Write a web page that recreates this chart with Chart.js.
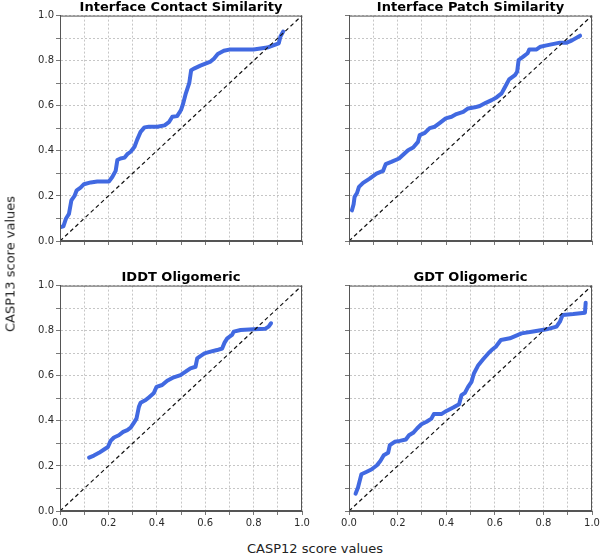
<!DOCTYPE html>
<html>
<head>
<meta charset="utf-8">
<script src="https://cdn.jsdelivr.net/npm/chart.js@4.4.1/dist/chart.umd.min.js"></script>
<style>
  body { margin: 0; background: #fff; }
  #wrap { position: relative; width: 600px; height: 556px; font-family: "DejaVu Sans", sans-serif; }
  .panel { position: absolute; }
  .axis-title { position: absolute; font-size: 13px; color: #222; white-space: nowrap; }
</style>
</head>
<body>
<div id="wrap">
  <div class="panel" id="p1" style="left:0px;top:0px;width:314px;height:247px"><canvas id="contact"></canvas></div>
  <div class="panel" id="p2" style="left:300px;top:0px;width:300px;height:247px"><canvas id="patch"></canvas></div>
  <div class="panel" id="p3" style="left:0px;top:270px;width:314px;height:263px"><canvas id="lddt"></canvas></div>
  <div class="panel" id="p4" style="left:300px;top:270px;width:300px;height:263px"><canvas id="gdt"></canvas></div>
  <div class="axis-title" style="left:247px;top:541px">CASP12 score values</div>
  <div class="axis-title" style="left:10px;top:264px;transform:translate(-50%,-50%) rotate(-90deg)">CASP13 score values</div>
</div>
<script>
// CASP12 (x) vs CASP13 (y) score values
const contactX = [0.003, 0.014, 0.025, 0.037, 0.047, 0.06, 0.069, 0.085, 0.099, 0.127, 0.154, 0.202, 0.216, 0.23, 0.237, 0.25, 0.267, 0.278, 0.292, 0.308, 0.319, 0.333, 0.349, 0.367, 0.402, 0.432, 0.45, 0.464, 0.484, 0.5, 0.509, 0.52, 0.534, 0.542, 0.556, 0.58, 0.622, 0.636, 0.652, 0.677, 0.704, 0.80, 0.856, 0.904, 0.911, 0.922]
const contactY = [0.062, 0.065, 0.10, 0.12, 0.18, 0.20, 0.225, 0.237, 0.252, 0.26, 0.264, 0.264, 0.284, 0.311, 0.359, 0.366, 0.37, 0.385, 0.396, 0.418, 0.45, 0.484, 0.504, 0.507, 0.507, 0.513, 0.527, 0.551, 0.554, 0.581, 0.61, 0.655, 0.70, 0.758, 0.766, 0.778, 0.796, 0.809, 0.83, 0.844, 0.85, 0.85, 0.858, 0.877, 0.907, 0.929]

const patchX = [0.012, 0.019, 0.023, 0.033, 0.041, 0.058, 0.085, 0.113, 0.14, 0.151, 0.174, 0.206, 0.225, 0.243, 0.264, 0.284, 0.291, 0.312, 0.332, 0.353, 0.374, 0.398, 0.422, 0.442, 0.47, 0.49, 0.518, 0.538, 0.563, 0.587, 0.607, 0.628, 0.641, 0.659, 0.683, 0.692, 0.698, 0.717, 0.735, 0.742, 0.772, 0.788, 0.813, 0.868, 0.896, 0.916, 0.951]
const patchY = [0.136, 0.163, 0.196, 0.213, 0.24, 0.258, 0.277, 0.299, 0.311, 0.341, 0.351, 0.366, 0.385, 0.403, 0.415, 0.44, 0.47, 0.48, 0.501, 0.507, 0.524, 0.544, 0.551, 0.563, 0.573, 0.588, 0.593, 0.599, 0.613, 0.625, 0.637, 0.655, 0.681, 0.717, 0.736, 0.751, 0.803, 0.818, 0.833, 0.85, 0.85, 0.862, 0.868, 0.88, 0.88, 0.889, 0.911]

const lddtX = [0.12, 0.14, 0.161, 0.182, 0.198, 0.209, 0.223, 0.243, 0.261, 0.278, 0.292, 0.305, 0.316, 0.326, 0.333, 0.354, 0.367, 0.388, 0.399, 0.422, 0.443, 0.47, 0.498, 0.519, 0.539, 0.56, 0.567, 0.58, 0.597, 0.622, 0.649, 0.67, 0.68, 0.691, 0.711, 0.718, 0.746, 0.80, 0.849, 0.862, 0.872]
const lddtY = [0.237, 0.246, 0.258, 0.273, 0.284, 0.311, 0.326, 0.336, 0.351, 0.359, 0.37, 0.391, 0.41, 0.462, 0.48, 0.492, 0.504, 0.524, 0.551, 0.559, 0.578, 0.593, 0.603, 0.618, 0.633, 0.64, 0.677, 0.687, 0.699, 0.707, 0.714, 0.721, 0.747, 0.766, 0.781, 0.796, 0.803, 0.806, 0.809, 0.818, 0.833]

const gdtX = [0.027, 0.037, 0.051, 0.071, 0.092, 0.115, 0.129, 0.143, 0.161, 0.168, 0.188, 0.209, 0.234, 0.247, 0.264, 0.28, 0.298, 0.319, 0.339, 0.349, 0.38, 0.401, 0.429, 0.453, 0.463, 0.477, 0.49, 0.504, 0.514, 0.532, 0.552, 0.573, 0.587, 0.604, 0.625, 0.662, 0.71, 0.758, 0.813, 0.854, 0.868, 0.879, 0.923, 0.971, 0.974]
const gdtY = [0.077, 0.104, 0.163, 0.173, 0.184, 0.203, 0.222, 0.247, 0.258, 0.292, 0.307, 0.311, 0.317, 0.336, 0.347, 0.366, 0.385, 0.396, 0.41, 0.43, 0.43, 0.444, 0.459, 0.474, 0.514, 0.524, 0.551, 0.573, 0.61, 0.647, 0.673, 0.699, 0.714, 0.729, 0.759, 0.766, 0.788, 0.796, 0.806, 0.818, 0.84, 0.87, 0.874, 0.88, 0.924]

const diagonal = [0, 1]
const tickValues = [0, 0.1, 0.2, 0.3, 0.4, 0.5, 0.6, 0.7, 0.8, 0.9, 1.0]

const colors = {
  curve: '#4169e1',
  diagonal: '#111111',
  grid: '#b8b8b8',
  axis: '#555555',
  text: '#2a2a2a'
}

// matplotlib-style box around the plot area
const frame = {
  id: 'frame',
  afterDraw(chart) {
    const { ctx, chartArea: a } = chart
    ctx.save()
    ctx.strokeStyle = colors.axis
    ctx.lineWidth = 1
    ctx.strokeRect(a.left + 0.5, a.top + 0.5, a.right - a.left - 1, a.bottom - a.top - 1)
    ctx.restore()
  }
}

function toPoints(xs, ys) {
  return xs.map((x, i) => ({ x: x, y: ys[i] }))
}

function makeAxis(showLabels, size, vertical) {
  return {
    type: 'linear',
    min: 0,
    max: 1,
    afterBuildTicks: scale => { scale.ticks = tickValues.map(v => ({ value: v })) },
    afterFit: scale => {
      if (vertical) scale.width = size
      else scale.height = size
      scale.paddingLeft = 0
      scale.paddingRight = 0
      scale.paddingTop = 0
      scale.paddingBottom = 0
    },
    ticks: {
      autoSkip: false,
      maxRotation: 0,
      padding: 2,
      color: colors.text,
      font: { family: 'DejaVu Sans', size: 10 },
      callback: (v, i) => (showLabels && i % 2 === 0) ? v.toFixed(1) : ''
    },
    grid: {
      color: colors.grid,
      tickColor: colors.axis,
      tickLength: 4,
      tickBorderDash: [],
      lineWidth: 0.8
    },
    border: { display: true, color: colors.axis, dash: [2, 2] }
  }
}

function drawPanel(canvasId, title, xs, ys, opts) {
  new Chart(document.getElementById(canvasId), {
    type: 'scatter',
    data: {
      datasets: [{
        data: toPoints(diagonal, diagonal),
        showLine: true,
        borderColor: colors.diagonal,
        borderWidth: 1.2,
        borderDash: [4, 3],
        pointRadius: 0
      }, {
        data: toPoints(xs, ys),
        showLine: true,
        borderColor: colors.curve,
        borderWidth: 4,
        borderJoinStyle: 'round',
        borderCapStyle: 'round',
        pointRadius: 0,
        tension: 0
      }]
    },
    options: {
      responsive: true,
      maintainAspectRatio: false,
      animation: false,
      layout: { padding: { top: 0, right: opts.padRight, bottom: 0, left: 0 } },
      plugins: {
        legend: { display: false },
        tooltip: { enabled: false },
        title: {
          display: true,
          text: title,
          fullSize: false,
          color: '#000',
          padding: 0,
          font: { family: 'DejaVu Sans', size: 13, weight: 'bold', lineHeight: 1.2 }
        }
      },
      scales: {
        x: makeAxis(opts.xLabels, opts.xHeight, false),
        y: makeAxis(opts.yLabels, opts.yWidth, true)
      }
    },
    plugins: [frame]
  })
}

drawPanel('contact', 'Interface Contact Similarity', contactX, contactY,
  { xLabels: false, yLabels: true, xHeight: 6, yWidth: 60, padRight: 12 })
drawPanel('patch', 'Interface Patch Similarity', patchX, patchY,
  { xLabels: false, yLabels: false, xHeight: 6, yWidth: 49, padRight: 8 })
drawPanel('lddt', 'IDDT Oligomeric', lddtX, lddtY,
  { xLabels: true, yLabels: true, xHeight: 22, yWidth: 60, padRight: 12 })
drawPanel('gdt', 'GDT Oligomeric', gdtX, gdtY,
  { xLabels: true, yLabels: false, xHeight: 22, yWidth: 49, padRight: 8 })
</script>
</body>
</html>
